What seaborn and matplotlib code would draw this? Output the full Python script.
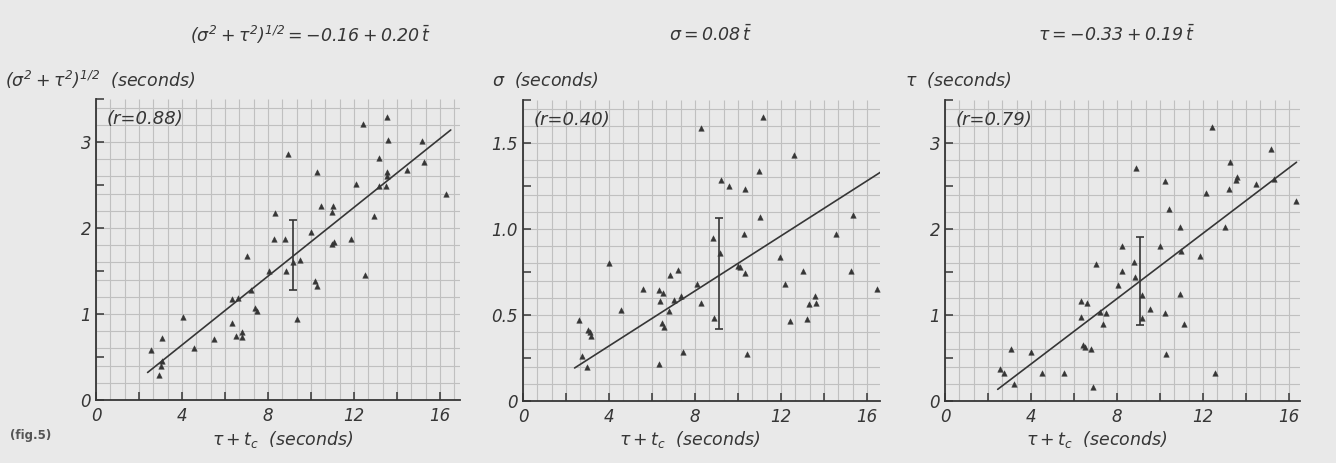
import numpy as np
import pandas as pd
import matplotlib
matplotlib.use("Agg")
import matplotlib.pyplot as plt
import seaborn as sns
from matplotlib.ticker import MultipleLocator, FixedLocator, FixedFormatter

# ---- data ----
# panel 1: (sigma^2 + tau^2)^1/2 against tau + t_c
p1_x = [2.54, 3.08, 3.08, 3.03, 2.95, 4.03, 4.54, 5.49, 6.31, 6.62, 6.34, 6.52, 6.8, 6.8,
        7.03, 7.23, 7.38, 7.48, 8.03, 8.26, 8.31, 8.8, 8.92, 8.83, 9.15, 9.49, 9.34, 10.0,
        10.26, 10.2, 10.26, 10.46, 10.98, 11.03, 11.08, 10.98, 11.88, 12.1, 12.42, 12.52,
        12.95, 13.18, 13.18, 13.49, 13.54, 13.6, 13.54, 13.54, 14.46, 15.18, 15.26, 16.28]
p1_y = [0.58, 0.72, 0.45, 0.40, 0.29, 0.97, 0.61, 0.71, 1.17, 1.19, 0.89, 0.74, 0.79, 0.73,
        1.68, 1.28, 1.07, 1.03, 1.50, 1.87, 2.18, 1.87, 2.86, 1.50, 1.60, 1.63, 0.94, 1.95,
        2.65, 1.38, 1.32, 2.25, 2.19, 2.26, 1.84, 1.81, 1.87, 2.51, 3.21, 1.45,
        2.14, 2.81, 2.49, 2.49, 3.29, 3.02, 2.65, 2.60, 2.68, 3.01, 2.77, 2.40]

# panel 2: sigma against tau + t_c
p2_x = [2.6, 2.76, 2.99, 3.02, 3.12, 3.18, 4.02, 4.57, 5.59, 6.33, 6.49, 6.35, 6.46, 6.58,
        6.33, 6.77, 6.85, 7.0, 7.21, 7.37, 7.43, 8.11, 8.27, 8.27, 8.85, 8.9, 9.17, 9.21,
        9.57, 10.0, 10.08, 10.27, 10.31, 10.31, 10.43, 10.99, 11.02, 11.18, 12.59, 11.94,
        12.2, 12.44, 13.0, 13.23, 13.29, 13.57, 13.62, 14.57, 15.35, 15.24, 16.46]
p2_y = [0.47, 0.26, 0.195, 0.41, 0.40, 0.38, 0.805, 0.53, 0.65, 0.646, 0.63, 0.58, 0.455, 0.43,
        0.218, 0.525, 0.73, 0.59, 0.76, 0.61, 0.286, 0.68, 0.57, 1.59, 0.95, 0.48, 0.86, 1.284,
        1.25, 0.786, 0.78, 0.97, 1.23, 0.747, 0.276, 1.34, 1.07, 1.65, 1.43, 0.84,
        0.68, 0.465, 0.753, 0.475, 0.565, 0.61, 0.57, 0.97, 1.084, 0.753, 0.65]

# panel 3: tau against tau + t_c
p3_x = [2.58, 2.76, 3.08, 3.21, 4.0, 4.5, 5.53, 6.32, 6.59, 6.32, 6.4, 6.52, 6.79, 6.87,
        7.0, 7.22, 7.47, 7.35, 8.06, 8.21, 8.21, 8.77, 8.89, 8.85, 9.16, 9.16, 9.53, 10.0,
        10.22, 10.22, 10.27, 10.43, 10.95, 10.95, 10.98, 11.1, 11.85, 12.16, 12.4, 12.56,
        13.0, 13.22, 13.27, 13.54, 13.58, 14.45, 15.17, 15.28, 16.32]
p3_y = [0.377, 0.32, 0.6, 0.2, 0.57, 0.32, 0.32, 1.167, 1.144, 0.98, 0.65, 0.63, 0.61, 0.163,
        1.595, 1.04, 1.02, 0.9, 1.35, 1.506, 1.8, 1.62, 2.71, 1.44, 1.233, 0.96, 1.066, 1.8,
        2.56, 1.02, 0.545, 2.23, 2.02, 1.245, 1.75, 0.9, 1.69, 2.42, 3.19, 0.32,
        2.02, 2.46, 2.78, 2.57, 2.61, 2.52, 2.93, 2.58, 2.32]

# fitted lines: intercept, slope, x range drawn
fit_intercept = [-0.16, 0.0, -0.33]
fit_slope = [0.20, 0.08, 0.19]
fit_x_from = [2.4, 2.4, 2.45]
fit_x_to = [16.5, 16.65, 16.35]

# typical error bar on each panel
err_x = [9.18, 9.13, 9.08]
err_lo = [1.28, 0.42, 0.88]
err_hi = [2.09, 1.064, 1.91]

r_values = ["0.88", "0.40", "0.79"]
y_max = [3.5, 1.75, 3.5]
y_ticks = [[0, 1, 2, 3], [0, 0.5, 1.0, 1.5], [0, 1, 2, 3]]
y_ticklabels = [["0", "1", "2", "3"], ["0", "0.5", "1.0", "1.5"], ["0", "1", "2", "3"]]
y_minor = [0.5, 0.25, 0.5]
y_grid = [0.2, 0.1, 0.2]
x_ticks = [0, 4, 8, 12, 16]

equations = [r"$(\sigma^2+\tau^2)^{1/2} = -0.16 + 0.20\,\bar{t}$",
             r"$\sigma = 0.08\,\bar{t}$",
             r"$\tau = -0.33 + 0.19\,\bar{t}$"]
y_labels = [r"$(\sigma^2+\tau^2)^{1/2}$  (seconds)", r"$\sigma$  (seconds)", r"$\tau$  (seconds)"]
x_label = r"$\tau + t_c$  (seconds)"

# ---- style ----
sns.set_theme(style="white")
plt.rcParams["font.family"] = ["DejaVu Sans"]
plt.rcParams["font.style"] = "italic"
plt.rcParams["mathtext.fontset"] = "custom"
plt.rcParams["mathtext.rm"] = "DejaVu Sans:italic"
plt.rcParams["mathtext.it"] = "DejaVu Sans:italic"

ink = "#363636"
paper = "#e9e9e9"
grid_c = "#c0c0c0"

W, H = 1336, 463
fig = plt.figure(figsize=(W / 100, H / 100), dpi=100, facecolor=paper)

# axes boxes in pixels: left, top, right, bottom
boxes = [(96, 99, 460, 400), (523, 100, 880, 401), (945, 100, 1300, 401)]
eq_cx = [310, 711, 1117]
ylab_x = [5, 492, 905]
xlab_cx = [283, 690, 1097]

panels = [(p1_x, p1_y), (p2_x, p2_y), (p3_x, p3_y)]

for i, (px, py) in enumerate(panels):
    l, t, r, b = boxes[i]
    ax = fig.add_axes([l / W, 1 - b / H, (r - l) / W, (b - t) / H])
    ax.set_facecolor(paper)
    xmax = (r - l) / 21.5

    # graph paper
    ax.vlines(np.arange(0, xmax, 2 / 3), 0, y_max[i], color=grid_c, lw=0.8, zorder=0)
    ax.hlines(np.arange(0, y_max[i] + 1e-6, y_grid[i]), 0, xmax, color=grid_c, lw=0.8, zorder=0)

    df = pd.DataFrame({"x": px, "y": py})
    sns.scatterplot(data=df, x="x", y="y", marker="^", s=16, color=ink,
                    edgecolor=ink, linewidth=0.3, ax=ax, zorder=3)

    fx = np.array([fit_x_from[i], fit_x_to[i]])
    fy = fit_intercept[i] + fit_slope[i] * fx
    sns.lineplot(x=fx, y=fy, color=ink, lw=1.2, ax=ax, zorder=2)

    mid = (err_lo[i] + err_hi[i]) / 2
    ax.errorbar([err_x[i]], [mid], yerr=[[mid - err_lo[i]], [err_hi[i] - mid]],
                fmt="none", ecolor=ink, elinewidth=1.2, capsize=3, capthick=1.2, zorder=4)

    ax.set_xlim(0, xmax)
    ax.set_ylim(0, y_max[i])
    ax.xaxis.set_major_locator(FixedLocator(x_ticks))
    ax.xaxis.set_minor_locator(MultipleLocator(2))
    ax.yaxis.set_major_locator(FixedLocator(y_ticks[i]))
    ax.yaxis.set_major_formatter(FixedFormatter(y_ticklabels[i]))
    ax.yaxis.set_minor_locator(MultipleLocator(y_minor[i]))
    ax.tick_params(which="both", direction="in", length=6, width=1.1, color=ink,
                   labelsize=12, labelcolor=ink, bottom=True, left=True)
    ax.tick_params(axis="x", pad=5)
    for lab in ax.get_xticklabels() + ax.get_yticklabels():
        lab.set_style("italic")
    for s in ["top", "right"]:
        ax.spines[s].set_visible(False)
    for s in ["left", "bottom"]:
        ax.spines[s].set_color(ink)
        ax.spines[s].set_linewidth(1.3)
    ax.set_xlabel("")
    ax.set_ylabel("")

    ax.text(0.03, 0.965, f"(r={r_values[i]})", transform=ax.transAxes, ha="left", va="top",
            fontsize=13, color=ink, style="italic", zorder=5)

    fig.text(eq_cx[i] / W, 1 - 35 / H, equations[i], ha="center", va="center",
             fontsize=12.5, color=ink)
    fig.text(ylab_x[i] / W, 1 - 80 / H, y_labels[i], ha="left", va="center",
             fontsize=12.5, color=ink)
    fig.text(xlab_cx[i] / W, 1 - 440 / H, x_label, ha="center", va="center",
             fontsize=12.5, color=ink)

fig.text(10 / W, 1 - 436 / H, "(fig.5)", ha="left", va="center", fontsize=8.5,
         fontweight="bold", style="normal", color="#555555")

fig.savefig("out.png", dpi=100, facecolor=paper)
